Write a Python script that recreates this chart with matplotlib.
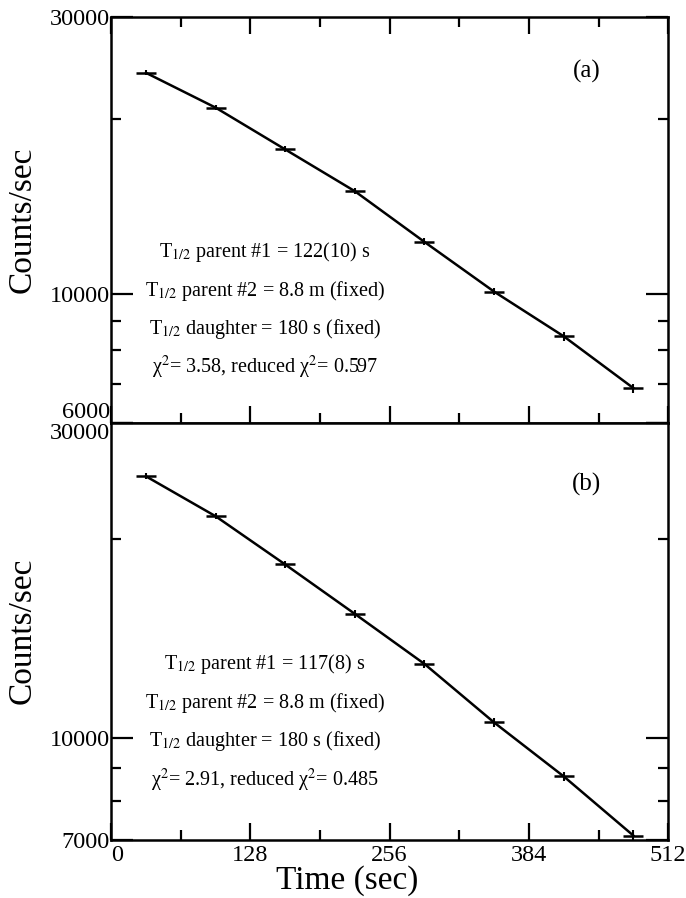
import matplotlib.pyplot as plt
from matplotlib.ticker import FixedLocator, NullFormatter

plt.rcParams['font.family'] = ['Liberation Serif', 'DejaVu Serif']
plt.rcParams['mathtext.fontset'] = 'stix'

# data
time_s = [32, 96, 160, 224, 288, 352, 416, 480]
counts_a = [24050, 20950, 17750, 15040, 12300, 10100, 8460, 6890]
counts_b = [24900, 21660, 18300, 15400, 12930, 10540, 8730, 7100]
err_a = [250, 230, 210, 190, 170, 150, 140, 120]
err_b = [260, 240, 220, 200, 180, 160, 150, 130]

x_major = [0, 128, 256, 384, 512]
x_minor = [64, 192, 320, 448]

text_a = [r'T$_{1/2}$ parent #1 = 122(10) s',
          r'T$_{1/2}$ parent #2 = 8.8 m (fixed)',
          r'T$_{1/2}$ daughter = 180 s (fixed)',
          r'χ$^2$= 3.58, reduced χ$^2$= 0.597']
text_b = [r'T$_{1/2}$ parent #1 = 117(8) s',
          r'T$_{1/2}$ parent #2 = 8.8 m (fixed)',
          r'T$_{1/2}$ daughter = 180 s (fixed)',
          r'χ$^2$= 2.91, reduced χ$^2$= 0.485']

fig = plt.figure(figsize=(6.86, 8.98), dpi=100)
ax1 = fig.add_axes([0.162, 0.529, 0.812, 0.452])
ax2 = fig.add_axes([0.162, 0.065, 0.812, 0.464])


def panel(ax, y, err, ylo, yhi, ymajor, yminor, lines, text_y, step, tag, tag_y):
    ax.plot(time_s, y, color='black', lw=1.8)
    ax.errorbar(time_s, y, yerr=err, fmt='none', ecolor='black', elinewidth=1.5)
    ax.plot(time_s, y, ls='none', marker='_', ms=14, mew=1.8, color='black')
    ax.set_yscale('log')
    ax.set_xlim(0, 512)
    ax.set_ylim(ylo, yhi)
    ax.yaxis.set_major_locator(FixedLocator(ymajor))
    ax.yaxis.set_minor_locator(FixedLocator(yminor))
    ax.yaxis.set_minor_formatter(NullFormatter())
    ax.set_yticklabels([str(v) for v in ymajor])
    ax.xaxis.set_major_locator(FixedLocator(x_major))
    ax.xaxis.set_minor_locator(FixedLocator(x_minor))
    ax.tick_params(which='major', direction='in', length=12, width=1.6,
                   labelsize=17.5, left=True, right=True)
    ax.tick_params(which='minor', direction='in', length=7, width=1.6,
                   left=True, right=True)
    ax.tick_params(axis='y', which='major', length=16, pad=1)
    ax.tick_params(axis='x', which='major', pad=4)
    for s in ax.spines.values():
        s.set_linewidth(1.8)
    ax.set_ylabel('Counts/sec', fontsize=24)
    ax.yaxis.label.set_va('center')
    ax.yaxis.set_label_coords(-0.16, 0.5)
    for i, t in enumerate(lines):
        ax.text(0.276, text_y - i * step, t, transform=ax.transAxes,
                ha='center', va='center', fontsize=14.5)
    ax.text(0.853, tag_y, tag, transform=ax.transAxes, ha='center',
            va='center', fontsize=18)


panel(ax1, counts_a, err_a, 6000, 30000, [6000, 10000, 30000],
      [7000, 8000, 9000, 20000], text_a, 0.421, 0.095, '(a)', 0.867)
ax1.tick_params(axis='x', which='both', top=True, bottom=True, labelbottom=False)
ax1.get_yticklabels()[0].set_va('bottom')

panel(ax2, counts_b, err_b, 7000, 30000, [7000, 10000, 30000],
      [8000, 9000, 20000], text_b, 0.422, 0.093, '(b)', 0.853)
ax2.tick_params(axis='x', which='both', top=False, bottom=True)
ax2.get_yticklabels()[-1].set_va('top')
ax2.get_xticklabels()[0].set_ha('left')
ax2.set_xlabel('Time (sec)', fontsize=24)
ax2.xaxis.set_label_coords(0.424, -0.062)

fig.savefig('out.png', dpi=100)
